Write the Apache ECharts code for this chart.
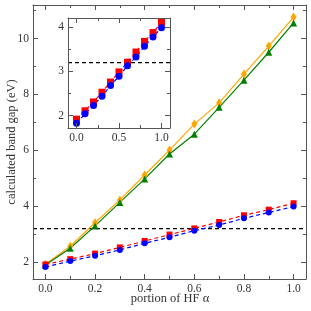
<!DOCTYPE html>
<html><head><meta charset="utf-8">
<script src="https://cdn.jsdelivr.net/npm/echarts@6/dist/echarts.min.js"></script>
<style>html,body{margin:0;padding:0;background:#fff}#c{width:311px;height:311px}</style>
</head><body><div id="c"></div>
<script>
const alphas = [0.0,0.1,0.2,0.3,0.4,0.5,0.6,0.7,0.8,0.9,1.0];
const orangeVals = [1.93,2.57,3.41,4.23,5.12,6.01,6.94,7.70,8.73,9.73,10.77];
const greenVals  = [1.90,2.50,3.30,4.14,4.98,5.87,6.58,7.54,8.51,9.51,10.56];
const redVals    = [1.92,2.11,2.31,2.53,2.76,2.99,3.21,3.44,3.68,3.88,4.11];
const blueVals   = [1.83,2.04,2.23,2.44,2.68,2.89,3.13,3.33,3.57,3.78,3.99];
const expGap = 3.2;
const xTitle = 'portion of HF \u03b1';
const yTitle = 'calculated band gap (eV)';

const mainXMajor = [0,0.2,0.4,0.6,0.8,1.0];
const mainXMinor = [0.1,0.3,0.5,0.7,0.9];
const mainYMajor = [2,4,6,8,10];
const mainYMinor = [3,5,7,9,11];
const insetXMajor = [0,0.5,1.0];
const insetXMinor = [0.25,0.75];
const insetYMajor = [2,3,4];
const insetYMinor = [2.5,3.5];

const FONT = 'Liberation Serif';
const AX = '#555';
const TXT = '#333';

function pts(ys){ return alphas.map((a,i)=>[a,ys[i]]); }

function mk(base, pos, showLine, len, vals, label){
  return Object.assign({}, base, {position:pos,
    axisLine:{show:showLine,onZero:false,lineStyle:{color:AX,width:1}},
    axisTick:{show:true,inside:true,length:len,customValues:vals,lineStyle:{color:AX}},
    axisLabel:label});
}
function axesSet(dim, grid, min, max, major, minor, fmt, z){
  const base = {type:'value', gridIndex:grid, min:min, max:max, splitLine:{show:false}, z:z};
  const p1 = dim==='x'?'bottom':'left', p2 = dim==='x'?'top':'right';
  const lab = {show:true,customValues:major,formatter:fmt,fontFamily:FONT,fontSize:11.5,color:TXT,margin:4};
  return [
    mk(base,p1,true,5,major,lab),
    mk(base,p1,false,3,minor,{show:false}),
    mk(base,p2,true,5,major,{show:false}),
    mk(base,p2,false,3,minor,{show:false})
  ];
}

const fx1 = v => v.toFixed(1);
const fy0 = v => String(Math.round(v));

const xAxis = [].concat(
  axesSet('x',0, -0.05, 1.05, mainXMajor, mainXMinor, fx1, 5),
  axesSet('x',1, -0.1, 1.1, insetXMajor, insetXMinor, fx1, 20)
);
const yAxis = [].concat(
  axesSet('y',0, 1.4, 11.2, mainYMajor, mainYMinor, fy0, 5),
  axesSet('y',1, 1.72, 4.21, insetYMajor, insetYMinor, fy0, 20)
);

function lineSeries(data, color, symbol, size, dashed, xi, yi, z){
  return {type:'line', data:data, xAxisIndex:xi, yAxisIndex:yi, symbol:symbol, symbolSize:size,
    showAllSymbol:true, silent:true, animation:false,
    lineStyle:{color:color,width:1.2,type:dashed?[4,3]:'solid'},
    itemStyle:{color:color,borderWidth:0}, z:z};
}
function hline(xi, yi, x0, x1, z){
  return {type:'line', data:[[x0,expGap],[x1,expGap]], xAxisIndex:xi, yAxisIndex:yi, symbol:'none',
    silent:true, animation:false, lineStyle:{color:'#000',width:1.1,type:[4,3]}, z:z};
}

const series = [
  hline(0,0,-0.05,1.05,2),
  lineSeries(pts(orangeVals),'#FFA500','diamond',[6,9],false,0,0,3),
  lineSeries(pts(greenVals),'#008000','triangle',7,false,0,0,3),
  lineSeries(pts(redVals),'#FF0000','rect',6,true,0,0,3),
  lineSeries(pts(blueVals),'#0000FF','circle',6,true,0,0,3),
  hline(4,4,-0.1,1.1,12),
  lineSeries(pts(redVals),'#FF0000','rect',7,true,4,4,13),
  lineSeries(pts(blueVals),'#0000FF','circle',7,true,4,4,13)
];

const chart = echarts.init(document.getElementById('c'), null, {renderer:'canvas'});
chart.setOption({
  animation:false,
  backgroundColor:'#fff',
  grid:[
    {left:33, top:5, right:5, bottom:32, containLabel:false, outerBoundsMode:'none'},
    {left:68, top:18, width:102, height:110, containLabel:false, outerBoundsMode:'none', show:true, backgroundColor:'#fff', borderWidth:0, z:10}
  ],
  graphic:[
    {type:'text', x:170, y:299, silent:true,
     style:{text:xTitle, font:'12.5px "Liberation Serif"', fill:TXT, align:'center', verticalAlign:'middle'}},
    {type:'text', x:12, y:142, rotation:Math.PI/2, silent:true,
     style:{text:yTitle, font:'12.5px "Liberation Serif"', fill:TXT, align:'center', verticalAlign:'middle'}}
  ],
  xAxis:xAxis, yAxis:yAxis, series:series
});
</script></body></html>
